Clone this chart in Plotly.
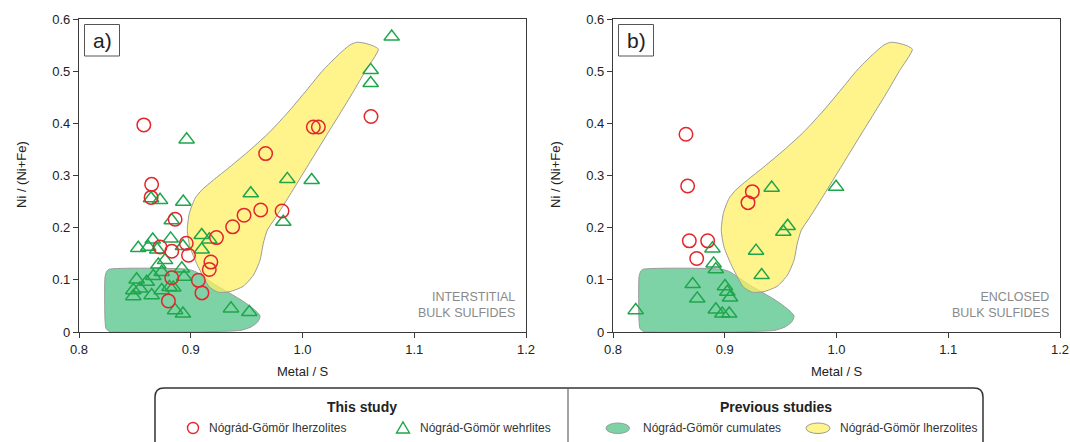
import plotly.graph_objects as go

# ---------------- data ----------------
# Panel a) interstitial bulk sulfides
a_lherz_x = [0.858, 0.865, 0.8645, 0.886, 0.967, 1.0097, 1.0142, 1.0613, 0.9817, 0.9626, 0.9477,
             0.9375, 0.923, 0.896, 0.8725, 0.883, 0.898, 0.918, 0.9166, 0.883, 0.9068, 0.910, 0.880]
a_lherz_y = [0.397, 0.283, 0.258, 0.216, 0.342, 0.393, 0.393, 0.413, 0.232, 0.234, 0.224,
             0.2016, 0.181, 0.170, 0.163, 0.155, 0.147, 0.134, 0.120, 0.104, 0.099, 0.075, 0.0596]
a_wehr_x = [1.0798, 1.061, 1.061, 0.8963, 1.0082, 0.9864, 0.9537, 0.8645, 0.8725, 0.8933, 0.883,
            0.9828, 0.9098, 0.9166, 0.9098, 0.853, 0.862, 0.866, 0.870, 0.882, 0.893, 0.877, 0.871,
            0.892, 0.874, 0.8665, 0.894, 0.8516, 0.8606, 0.881, 0.8486, 0.8546, 0.8486, 0.865,
            0.874, 0.8844, 0.886, 0.893, 0.936, 0.9524]
a_wehr_y = [0.566, 0.502, 0.477, 0.369, 0.291, 0.293, 0.2656, 0.256, 0.253, 0.2495, 0.214,
            0.211, 0.1856, 0.1773, 0.158, 0.161, 0.163, 0.177, 0.158, 0.179, 0.1645, 0.1376, 0.129,
            0.1217, 0.115, 0.107, 0.1056, 0.1006, 0.096, 0.086, 0.080, 0.083, 0.0685, 0.0704,
            0.080, 0.085, 0.0417, 0.035, 0.045, 0.038]

# Panel b) enclosed bulk sulfides
b_lherz_x = [0.8653, 0.8668, 0.9247, 0.9208, 0.8683, 0.8847, 0.8749]
b_lherz_y = [0.379, 0.280, 0.269, 0.248, 0.1747, 0.1747, 0.141]
b_wehr_x = [0.942, 0.9996, 0.9563, 0.9524, 0.889, 0.928, 0.890, 0.892, 0.933, 0.8713, 0.9002,
            0.9023, 0.8754, 0.9047, 0.8203, 0.892, 0.8978, 0.904]
b_wehr_y = [0.2765, 0.278, 0.203, 0.192, 0.160, 0.1555, 0.131, 0.120, 0.1088, 0.0916, 0.0877,
            0.0768, 0.064, 0.066, 0.0417, 0.043, 0.035, 0.035]

# Previous studies fields (outline vertices)
cum_x = [0.8271, 0.8972, 0.9047, 0.9136, 0.9226, 0.9345, 0.9465, 0.9569, 0.962, 0.9599, 0.9539,
         0.945, 0.9286, 0.8271, 0.8242, 0.8233, 0.8233, 0.8248]
cum_y = [0.1203, 0.1203, 0.1152, 0.1024, 0.0896, 0.0749, 0.0595, 0.043, 0.0307, 0.0192, 0.0096,
         0.0033, 0.0013, 0.0013, 0.0065, 0.0225, 0.1056, 0.1165]

lhz_x = [1.0679, 1.0559, 1.0455, 1.0336, 1.0216, 1.0097, 0.9978, 0.9858, 0.9754, 0.9685, 0.9649,
         0.962, 0.956, 0.947, 0.9351, 0.9247, 0.9166, 0.9113, 0.9053, 0.8993, 0.8969, 0.8987,
         0.9038, 0.9098, 0.9202, 0.9351, 0.953, 0.9709, 0.9888, 1.0038, 1.0186, 1.032, 1.0425,
         1.0485, 1.0559, 1.0634]
lhz_y = [0.542, 0.499, 0.4607, 0.419, 0.3775, 0.336, 0.2944, 0.2528, 0.2176, 0.1952, 0.1696,
         0.1376, 0.1088, 0.0877, 0.0775, 0.0762, 0.0864, 0.1056, 0.1313, 0.1632, 0.1952, 0.2272,
         0.256, 0.272, 0.2912, 0.3167, 0.3488, 0.3839, 0.4255, 0.4639, 0.5023, 0.5311, 0.5503,
         0.5554, 0.5535, 0.5484]

x_ticks = [0.8, 0.9, 1.0, 1.1, 1.2]
y_ticks = [0, 0.1, 0.2, 0.3, 0.4, 0.5, 0.6]
panel_labels = ["a)", "b)"]
panel_notes = ["INTERSTITIAL<br>BULK SULFIDES", "ENCLOSED<br>BULK SULFIDES"]
legend_groups = ["This study", "Previous studies"]
legend_items = ["Nógrád-Gömör lherzolites", "Nógrád-Gömör wehrlites",
                "Nógrád-Gömör cumulates", "Nógrád-Gömör lherzolites"]

# ---------------- styles ----------------
W, H = 1070, 442
FONT = "Liberation Sans, Arial, sans-serif"
RED = "#e3262c"
GREEN = "#1ea64b"
CUM_FILL = "rgb(125,211,165)"
LHZ_FILL = "rgba(255,240,95,0.72)"
OUTLINE = "#9a9a9a"
AXC = "#3a3a3a"


def px(x):
    return x / W


def py(y):
    return 1 - y / H


fig = go.Figure()

panels = [
    ("x", "y", a_lherz_x, a_lherz_y, a_wehr_x, a_wehr_y),
    ("x2", "y2", b_lherz_x, b_lherz_y, b_wehr_x, b_wehr_y),
]
for xa, ya, lx, ly, wx, wy in panels:
    fig.add_trace(go.Scatter(x=cum_x + [cum_x[0]], y=cum_y + [cum_y[0]], mode="lines",
                             fill="toself", fillcolor=CUM_FILL,
                             line=dict(color=OUTLINE, width=1, shape="spline", smoothing=0.6),
                             xaxis=xa, yaxis=ya, hoverinfo="skip", showlegend=False))
    fig.add_trace(go.Scatter(x=lhz_x + [lhz_x[0]], y=lhz_y + [lhz_y[0]], mode="lines",
                             fill="toself", fillcolor=LHZ_FILL,
                             line=dict(color=OUTLINE, width=1, shape="spline", smoothing=0.6),
                             xaxis=xa, yaxis=ya, hoverinfo="skip", showlegend=False))
    fig.add_trace(go.Scatter(x=wx, y=wy, mode="markers", xaxis=xa, yaxis=ya,
                             marker=dict(symbol="triangle-up-open", size=13.5,
                                         color=GREEN, line=dict(width=1.5, color=GREEN)),
                             showlegend=False))
    fig.add_trace(go.Scatter(x=lx, y=ly, mode="markers", xaxis=xa, yaxis=ya,
                             marker=dict(symbol="circle-open", size=13.5,
                                         color=RED, line=dict(width=1.5, color=RED)),
                             showlegend=False))

x_dom = [[79 / W, 526 / W], [613 / W, 1060 / W]]
y_dom = [py(332), py(19)]

axis_common = dict(showgrid=False, zeroline=False, showline=True, mirror=True,
                   linecolor=AXC, linewidth=1.3, ticks="outside", ticklen=5,
                   tickcolor=AXC, tickwidth=1.2, automargin=False,
                   tickfont=dict(family=FONT, size=13, color="#222"))

fig.update_layout(
    width=W, height=H, margin=dict(l=0, r=0, t=0, b=0, pad=0, autoexpand=False),
    paper_bgcolor="white", plot_bgcolor="white",
    showlegend=False,
    xaxis=dict(domain=x_dom[0], range=[0.8, 1.2], tickvals=x_ticks, tickformat=".1f",
               anchor="y", **axis_common),
    yaxis=dict(domain=y_dom, range=[0, 0.6], tickvals=y_ticks, anchor="x", **axis_common),
    xaxis2=dict(domain=x_dom[1], range=[0.8, 1.2], tickvals=x_ticks, tickformat=".1f",
                anchor="y2", **axis_common),
    yaxis2=dict(domain=y_dom, range=[0, 0.6], tickvals=y_ticks, anchor="x2", **axis_common),
)

ann = []
shapes = []


def label(x, y, text, size, color="#222", xanchor="center", **kw):
    ann.append(dict(x=px(x), y=py(y), xref="paper", yref="paper", text=text,
                    showarrow=False, xanchor=xanchor, yanchor="middle",
                    font=dict(family=FONT, size=size, color=color), **kw))


for i, (xl, xr) in enumerate([(79, 526), (613, 1060)]):
    label((xl + xr) / 2, 371, "Metal / S", 13)
    label(xl - 57, 175, "Ni / (Ni+Fe)", 13, textangle=-90)
    shapes.append(dict(type="rect", xref="paper", yref="paper",
                       x0=px(xl + 5.5), x1=px(xl + 40.5), y0=py(56), y1=py(24.5),
                       line=dict(color="#555", width=1), fillcolor="white"))
    label(xl + 23, 40, panel_labels[i], 21)
    label(xr - 9, 305, panel_notes[i], 12.5, color="#8a8a8a", xanchor="right", align="right")

# legend box (rounded, bottom clipped by the page)
x0, x1, y0, y1, r = 155, 983, 388, 452, 9
path = (f"M {px(x0)},{py(y1)} L {px(x0)},{py(y0 + r)} "
        f"Q {px(x0)},{py(y0)} {px(x0 + r)},{py(y0)} "
        f"L {px(x1 - r)},{py(y0)} Q {px(x1)},{py(y0)} {px(x1)},{py(y0 + r)} "
        f"L {px(x1)},{py(y1)}")
shapes.append(dict(type="path", xref="paper", yref="paper", path=path,
                   line=dict(color="#333", width=1.5)))
shapes.append(dict(type="line", xref="paper", yref="paper",
                   x0=px(568), x1=px(568), y0=py(388), y1=py(442),
                   line=dict(color="#666", width=1.2)))

label(362, 407, f"<b>{legend_groups[0]}</b>", 14)
label(776, 407, f"<b>{legend_groups[1]}</b>", 14)

# legend symbols
shapes.append(dict(type="circle", xref="paper", yref="paper",
                   x0=px(187.5), x1=px(198.5), y0=py(433.5), y1=py(422.5),
                   line=dict(color=RED, width=1.4)))
tri = f"M {px(396.5)},{py(433)} L {px(409.5)},{py(433)} L {px(403)},{py(422)} Z"
shapes.append(dict(type="path", xref="paper", yref="paper", path=tri,
                   line=dict(color=GREEN, width=1.4)))
shapes.append(dict(type="circle", xref="paper", yref="paper",
                   x0=px(606), x1=px(629.5), y0=py(433.5), y1=py(423),
                   fillcolor=CUM_FILL, line=dict(color=OUTLINE, width=1)))
shapes.append(dict(type="circle", xref="paper", yref="paper",
                   x0=px(806), x1=px(830), y0=py(433.5), y1=py(423),
                   fillcolor="rgb(255,245,140)", line=dict(color=OUTLINE, width=1)))

for xpos, txt in zip([207, 418, 641, 838], legend_items):
    label(xpos, 428, txt, 12, color="#333", xanchor="left")

fig.update_layout(annotations=ann, shapes=shapes)
fig.write_html("out.html")
